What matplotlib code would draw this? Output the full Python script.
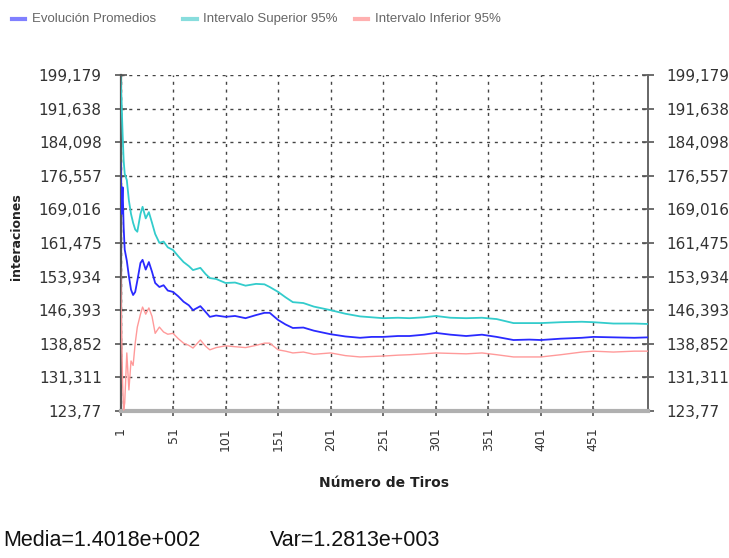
import matplotlib
matplotlib.use("Agg")
import matplotlib.pyplot as plt
import matplotlib.transforms as mtransforms
from matplotlib.lines import Line2D

# ---- data ----
tiros = [1, 2, 3, 4, 5, 7, 9, 11, 13, 15, 17, 20, 22, 25, 28, 31, 34, 38, 42, 46,
         51, 56, 61, 66, 70, 77, 82, 86, 92, 101, 110, 120, 130, 138, 143, 151, 158,
         165, 175, 185, 201, 215, 229, 240, 251, 265, 276, 290, 301, 315, 330, 345,
         359, 375, 390, 401, 420, 440, 451, 470, 490, 503]

promedio = [179.5, 168, 174, 165, 160, 157.5, 154, 151, 149.8, 150.5, 153, 157, 157.7,
            155.5, 157.2, 155, 152.5, 151.6, 152, 150.8, 150.5, 149.5, 148.3, 147.5,
            146.4, 147.3, 146, 144.9, 145.2, 144.9, 145.1, 144.6, 145.3, 145.8, 145.8,
            144.2, 143.2, 142.4, 142.5, 141.8, 141.0, 140.5, 140.2, 140.4, 140.4, 140.6,
            140.6, 140.9, 141.3, 140.9, 140.6, 140.9, 140.4, 139.7, 139.8, 139.7, 140.0,
            140.2, 140.4, 140.3, 140.2, 140.3]

superior = [198.7, 193, 186, 180, 177, 175.6, 171, 168, 166, 164.5, 164, 168, 169.6,
            167, 168.4, 166, 163.5, 161.5, 161.8, 160.5, 159.9, 158.5, 157.2, 156.3,
            155.4, 155.9, 154.5, 153.6, 153.4, 152.5, 152.6, 151.9, 152.3, 152.2, 151.6,
            150.5, 149.3, 148.2, 148.0, 147.2, 146.4, 145.6, 145.0, 144.8, 144.6, 144.7,
            144.6, 144.8, 145.1, 144.7, 144.6, 144.7, 144.4, 143.5, 143.5, 143.5, 143.7,
            143.8, 143.7, 143.4, 143.4, 143.3]

inferior = [156, 142, 130, 124, 125.6, 136.8, 128.5, 135, 134, 139, 142.6, 145.5, 147.1,
            145.5, 146.9, 145, 141.2, 142.6, 141.5, 141, 141.2, 140, 139, 138.5, 137.9,
            139.7, 138.3, 137.5, 138, 138.4, 138.2, 138.0, 138.5, 139.0, 139.0, 137.5,
            137.2, 136.8, 137.0, 136.5, 136.8, 136.2, 135.9, 136.0, 136.1, 136.3, 136.4,
            136.6, 136.8, 136.7, 136.6, 136.8, 136.4, 135.9, 135.9, 135.9, 136.4, 137.0,
            137.2, 137.0, 137.2, 137.2]

y_ticks = [123.77, 131.311, 138.852, 146.393, 153.934, 161.475, 169.016,
           176.557, 184.098, 191.638, 199.179]
y_tick_labels = ["123,77", "131,311", "138,852", "146,393", "153,934", "161,475",
                 "169,016", "176,557", "184,098", "191,638", "199,179"]
x_ticks = [1, 51, 101, 151, 201, 251, 301, 351, 401, 451]
x_tick_labels = [str(v) for v in x_ticks]

legend_labels = ["Evolución Promedios", "Intervalo Superior 95%", "Intervalo Inferior 95%"]

# ---- figure ----
W, H = 729, 558
fig = plt.figure(figsize=(W / 100, H / 100), dpi=100)
ax = fig.add_axes([120.5 / W, 1 - 411 / H, (648 - 120.5) / W, (411 - 75) / H])

c_blue, c_cyan, c_pink = "#2a2aff", "#33cccc", "#ff9a9a"
ax.plot(tiros, inferior, color=c_pink, lw=1.0, zorder=3)
ax.plot(tiros, superior, color=c_cyan, lw=1.3, zorder=4)
ax.plot(tiros, promedio, color=c_blue, lw=1.3, zorder=5)

ax.set_xlim(1, 503)
ax.set_ylim(y_ticks[0], y_ticks[-1])
ax.set_yticks(y_ticks)
ax.set_yticklabels(y_tick_labels)
ax.set_xticks(x_ticks)
ax.set_xticklabels(x_tick_labels, rotation=90, va="top", ha="center")

offset = mtransforms.ScaledTranslation(9 / 100, 0, fig.dpi_scale_trans)
for lab in ax.get_xticklabels():
    lab.set_transform(lab.get_transform() + offset)

ax.grid(True, color="#444444", lw=1.0, linestyle=(0, (2.2, 3.4)))
ax.set_axisbelow(True)

ax.spines["top"].set_visible(False)
ax.spines["left"].set_color("#555555")
ax.spines["left"].set_linewidth(1.6)
ax.spines["right"].set_color("#666666")
ax.spines["right"].set_linewidth(1.4)
ax.spines["bottom"].set_color("#b0b0b0")
ax.spines["bottom"].set_linewidth(3)

ax.tick_params(axis="y", which="both", left=True, right=True, labelleft=True,
               labelright=True, direction="inout", length=9, width=1.2,
               color="#555555", labelsize=11, labelcolor="#333333", pad=9)
ax.tick_params(axis="x", direction="inout", length=7, width=1.2, color="#555555",
               labelsize=9, labelcolor="#333333", pad=8)
for lab in ax.get_yticklabels() + ax.get_xticklabels():
    lab.set_family("DejaVu Sans")

fig.text(17 / W, 1 - 237 / H, "interaciones", rotation=90, ha="center", va="center",
         fontsize=9, fontweight="bold", color="#222222", family="DejaVu Sans")
fig.text(384 / W, 1 - 483 / H, "Número de Tiros", ha="center", va="center",
         fontsize=10, fontweight="bold", color="#222222", family="DejaVu Sans")

# legend at top
leg_colors = ["#8080ff", "#88dddd", "#ffb0b0"]
handle_x = [(12, 25), (183, 197), (355, 368)]
text_x = [32, 203, 375]
for (x0, x1), tx, col, lab in zip(handle_x, text_x, leg_colors, legend_labels):
    fig.add_artist(Line2D([x0 / W, x1 / W], [1 - 19 / H, 1 - 19 / H], color=col,
                          lw=3, transform=fig.transFigure))
    fig.text(tx / W, 1 - 19 / H, lab, ha="left", va="center", fontsize=9.5,
             color="#666666", family="Liberation Sans")

# bottom stats
fig.text(3 / W, 1 - 541 / H, "Media=1.4018e+002", ha="left", va="center",
         fontsize=15.5, color="#111111", family="Liberation Sans")
fig.text(270 / W, 1 - 541 / H, "Var=1.2813e+003", ha="left", va="center",
         fontsize=15.5, color="#111111", family="Liberation Sans")

fig.savefig("out.png", dpi=100, facecolor="white")
